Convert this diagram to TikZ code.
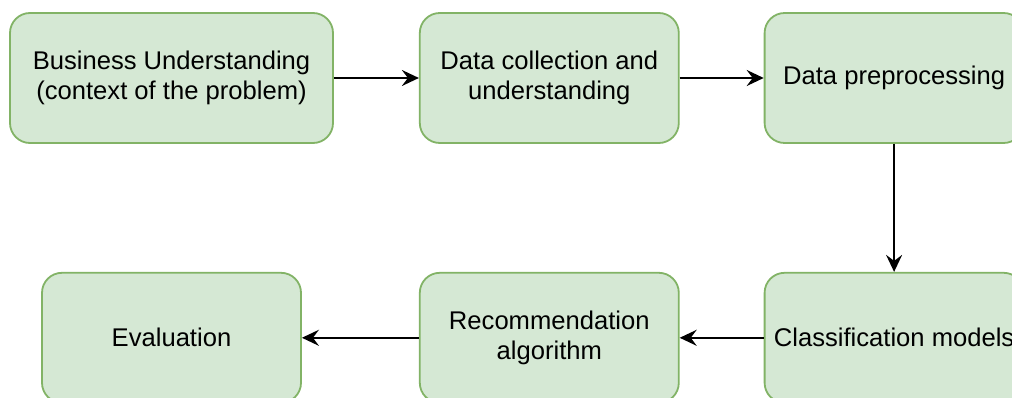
\documentclass[tikz,border=0pt]{standalone}
\usepackage{fontspec}
\setmainfont{Liberation Sans}
\usepackage{tikz}
\usetikzlibrary{positioning,arrows.meta}
\definecolor{cajaverde}{HTML}{D5E8D4}
\definecolor{bordeverde}{HTML}{82B366}
\tikzset{
  paso/.style   = {draw=bordeverde, fill=cajaverde, line width=1.8pt,
                   rounded corners=20pt, align=center, inner sep=0pt,
                   font=\fontsize{25.6}{30}\selectfont,
                   minimum width=259pt, minimum height=130pt},
  flecha/.style = {line width=2pt, -{Stealth[length=17pt, width=16pt, inset=6pt]}}
}
\begin{document}
\begin{tikzpicture}[x=1pt, y=1pt]
  \useasboundingbox (0,0) rectangle (1012,-398);
  \clip (0,0) rectangle (1012,-398);
  \node[paso, minimum width=323pt] (negocio) at (171.5,-78) {Business Understanding\\(context of the problem)};
  \node[paso, right=85pt of negocio] (datos) {Data collection and\\understanding};
  \node[paso, right=84pt of datos] (prepro) {Data preprocessing};
  \node[paso, below=128pt of prepro] (clasif) {Classification models};
  \node[paso, left=84pt of clasif] (recom) {Recommendation\\algorithm};
  \node[paso, left=117pt of recom] (evalu) {Evaluation};

  \draw[flecha] (negocio) -- (datos);
  \draw[flecha] (datos) -- (prepro);
  \draw[flecha] (prepro) -- (clasif);
  \draw[flecha] (clasif) -- (recom);
  \draw[flecha] (recom) -- (evalu);
\end{tikzpicture}
\end{document}
